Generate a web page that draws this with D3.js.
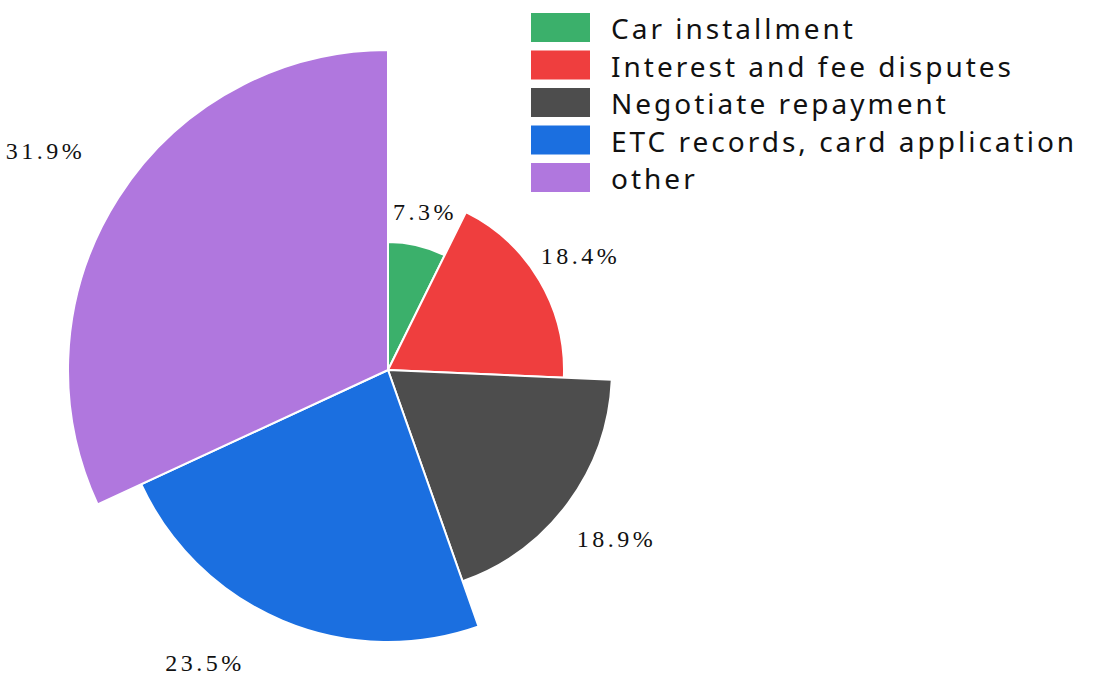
<!DOCTYPE html>
<html>
<head>
<meta charset="utf-8">
<script src="https://cdn.jsdelivr.net/npm/d3@7/dist/d3.min.js"></script>
<style>
  html, body { margin: 0; padding: 0; background: #fff; }
  svg { display: block; }
</style>
</head>
<body>
<svg id="chart" width="1099" height="677"></svg>
<script>
// Share of inquiries by category (percent)
const categories = ["Car installment", "Interest and fee disputes", "Negotiate repayment", "ETC records, card application", "other"];
const shares = [7.3, 18.4, 18.9, 23.5, 31.9];
const colors = ["#3bb06b", "#ef3e3e", "#4d4d4d", "#1b6fe0", "#b077de"];

const width = 1099, height = 677;
const cx = 388, cy = 370;
const svg = d3.select("#chart");

const data = categories.map((c, i) => ({ name: c, value: shares[i], color: colors[i] }));

// Slice angle follows the share; slice length follows its rank among the shares
const ranked = shares.slice().sort((a, b) => a - b);
const radius = d3.scaleLinear().domain([0, shares.length - 1]).range([128, 320]);
const rOf = v => radius(ranked.indexOf(v));

const pie = d3.pie().value(d => d.value).sort(null);
const arcs = pie(data);

const g = svg.append("g").attr("transform", `translate(${cx},${cy})`);

g.selectAll("path.slice")
  .data(arcs)
  .join("path")
  .attr("class", "slice")
  .attr("d", d => d3.arc().innerRadius(0).outerRadius(rOf(d.data.value))(d))
  .attr("fill", d => d.data.color)
  .attr("stroke", "#ffffff")
  .attr("stroke-width", 2)
  .attr("stroke-linejoin", "round");

// Percentage labels just outside each slice; a label that would fall
// below the canvas slides along its circle until it fits.
const maxY = height - 14 - cy;
function labelPos(d) {
  const r = rOf(d.data.value) * 1.27;
  let a = (d.startAngle + d.endAngle) / 2;
  let y = -Math.cos(a) * r;
  if (y > maxY) {
    const c = -maxY / r;              // cos of the adjusted angle
    a = Math.PI * 2 - Math.acos(c);   // keep it on the left-hand side
    y = maxY;
  }
  return [Math.sin(a) * r, y];
}

g.selectAll("text.pct")
  .data(arcs)
  .join("text")
  .attr("class", "pct")
  .attr("transform", d => `translate(${labelPos(d)})`)
  .attr("text-anchor", "middle")
  .attr("dominant-baseline", "central")
  .style("font-family", "'Liberation Serif', 'DejaVu Serif', serif")
  .style("font-size", "24px")
  .style("letter-spacing", "3.5px")
  .attr("fill", "#111")
  .text(d => d.data.value.toFixed(1) + "%");

// Legend
const legend = svg.append("g").attr("transform", "translate(531,13)");
const row = legend.selectAll("g.item")
  .data(data)
  .join("g")
  .attr("class", "item")
  .attr("transform", (d, i) => `translate(0,${i * 37.5})`);

row.append("rect")
  .attr("width", 59)
  .attr("height", 29)
  .attr("fill", d => d.color);

row.append("text")
  .attr("x", 80)
  .attr("y", 15)
  .attr("dominant-baseline", "central")
  .style("font-family", "'Noto Sans', 'Open Sans', sans-serif")
  .style("font-size", "28px")
  .style("letter-spacing", "3px")
  .attr("fill", "#111")
  .text(d => d.name);
</script>
</body>
</html>
